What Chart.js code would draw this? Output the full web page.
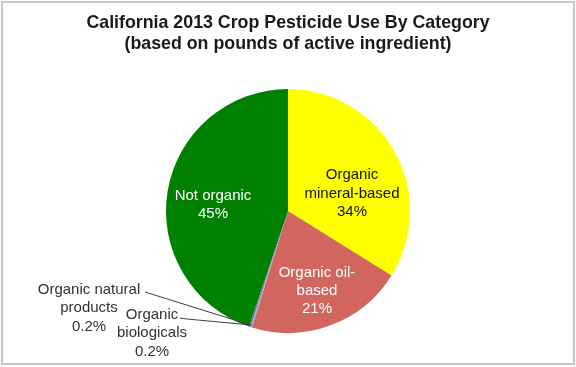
<!DOCTYPE html>
<html>
<head>
<meta charset="utf-8">
<script src="https://cdn.jsdelivr.net/npm/chart.js@4.4.1/dist/chart.umd.min.js"></script>
<style>
  html, body { margin: 0; padding: 0; background: #fff; }
  #wrap { width: 576px; height: 367px; position: relative; }
</style>
</head>
<body>
<div id="wrap"><canvas id="pieChart"></canvas></div>
<script>
// data
const categories = ['Organic mineral-based', 'Organic oil-based', 'Organic natural products', 'Organic biologicals', 'Not organic'];
const shares = [34, 21, 0.2, 0.2, 45];
// how each category name is broken over lines in its label
const labelLines = [['Organic', 'mineral-based'], ['Organic oil-', 'based'], ['Organic natural', 'products'], ['Organic', 'biologicals'], ['Not organic']];
const titleLines = ['California 2013 Crop Pesticide Use By Category', '(based on pounds of active ingredient)'];

const sliceColors = ['#ffff00', '#d2665f', '#95b3d7', '#8064a2', '#008000'];
const FONT = '"Liberation Sans", Arial, sans-serif';

// label placement relative to the pie centre (dx, dy), plus leader-line start for the outside ones
const labelSpots = [
  { dx: 64, dy: -17.5, color: '#111', lh: 18.5 },
  { dx: 29, dy: 80, color: '#fff', lh: 17.8 },
  { dx: -199, dy: 97, color: '#333', lh: 18.5, leader: [[-143, 81]] },
  { dx: -136, dy: 122, color: '#333', lh: 18.5, leader: [[-108, 107], [-101, 108]] },
  { dx: -75, dy: -6, color: '#fff', lh: 17.5 }
];

const pieLabels = {
  id: 'pieLabels',
  afterDatasetsDraw(chart) {
    const ctx = chart.ctx;
    const arcs = chart.getDatasetMeta(0).data;
    ctx.save();
    arcs.forEach((arc, i) => {
      const spot = labelSpots[i];
      const cx = arc.x, cy = arc.y;
      if (spot.leader) {
        const mid = (arc.startAngle + arc.endAngle) / 2;
        ctx.strokeStyle = '#404040';
        ctx.lineWidth = 1;
        ctx.beginPath();
        spot.leader.forEach((p, k) => {
          if (k === 0) ctx.moveTo(cx + p[0], cy + p[1]);
          else ctx.lineTo(cx + p[0], cy + p[1]);
        });
        ctx.lineTo(cx + Math.cos(mid) * (arc.outerRadius - 2), cy + Math.sin(mid) * (arc.outerRadius - 2));
        ctx.stroke();
      }
      const lines = labelLines[i].concat([shares[i] + '%']);
      ctx.fillStyle = spot.color;
      ctx.font = '15px ' + FONT;
      ctx.textAlign = 'center';
      ctx.textBaseline = 'middle';
      const top = cy + spot.dy - (lines.length - 1) * spot.lh / 2;
      lines.forEach((t, k) => ctx.fillText(t, cx + spot.dx, top + k * spot.lh));
    });
    ctx.restore();
  }
};

const frame = {
  id: 'frame',
  beforeDraw(chart) {
    const ctx = chart.ctx;
    ctx.save();
    ctx.fillStyle = '#fff';
    ctx.fillRect(0, 0, chart.width, chart.height);
    ctx.strokeStyle = '#c8c8c8';
    ctx.lineWidth = 2;
    ctx.strokeRect(2, 2, chart.width - 4, chart.height - 5);
    ctx.restore();
  }
};

window.onload = function () {
  const ctx = document.getElementById('pieChart').getContext('2d');
  new Chart(ctx, {
    type: 'pie',
    data: {
      labels: categories,
      datasets: [{
        data: shares,
        backgroundColor: sliceColors,
        borderWidth: 0
      }]
    },
    options: {
      responsive: true,
      maintainAspectRatio: false,
      animation: false,
      layout: { padding: { top: 0, bottom: 34, left: 0, right: 0 } },
      plugins: {
        legend: { display: false },
        tooltip: { enabled: false },
        title: {
          display: true,
          text: titleLines,
          color: '#1a1a1a',
          font: { family: FONT, size: 17.8, weight: 'bold', lineHeight: 1.2 },
          padding: { top: 12.3, bottom: 34 }
        }
      }
    },
    plugins: [frame, pieLabels]
  });
};
</script>
</body>
</html>
